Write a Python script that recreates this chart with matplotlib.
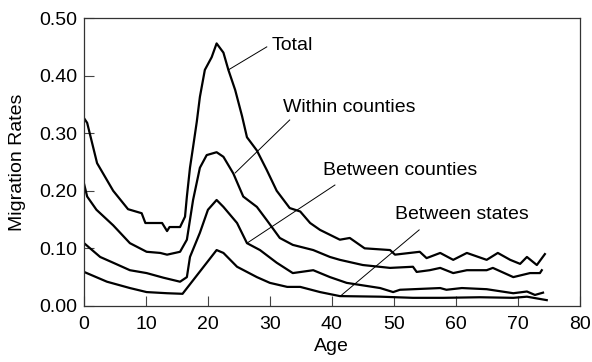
import matplotlib.pyplot as plt

plt.rcParams['font.family'] = ['Liberation Sans', 'DejaVu Sans']

# ages and rates
total_age = [0, 0.5, 2.1, 4.7, 7.1, 9.3, 9.9, 12.6, 13.4, 13.8, 15.5, 16.3, 16.6, 17.1, 17.6,
             18.2, 18.7, 19.5, 20.6, 21.4, 22.5, 23.3, 24.4, 25.5, 26.3, 27.9, 29.5, 31.1,
             33.2, 34.9, 36.5, 38.1, 41.3, 42.9, 45.3, 49.4, 50.2, 54.2, 55.3, 57.5, 59.6,
             61.8, 65.0, 66.8, 68.8, 70.4, 71.5, 73.1, 74.4]
total = [0.326, 0.318, 0.248, 0.200, 0.168, 0.161, 0.144, 0.144, 0.130, 0.137, 0.137, 0.155,
         0.190, 0.240, 0.276, 0.320, 0.363, 0.410, 0.432, 0.456, 0.440, 0.410, 0.375, 0.330,
         0.293, 0.270, 0.236, 0.200, 0.170, 0.164, 0.144, 0.132, 0.115, 0.118, 0.100, 0.097,
         0.089, 0.094, 0.083, 0.092, 0.080, 0.092, 0.080, 0.092, 0.080, 0.073, 0.085, 0.071,
         0.090]

within_age = [0, 0.5, 2.0, 4.7, 7.4, 10.1, 12.3, 13.4, 15.5, 16.6, 17.6, 18.7, 19.8, 21.4,
              22.5, 24.1, 25.7, 27.9, 29.5, 31.6, 33.7, 37.0, 39.7, 41.3, 45.0, 49.4, 53.1,
              53.7, 55.8, 57.5, 59.6, 61.8, 65.0, 66.0, 69.3, 72.0, 73.6, 73.9]
within = [0.212, 0.190, 0.167, 0.140, 0.109, 0.094, 0.092, 0.089, 0.094, 0.115, 0.184, 0.240,
          0.262, 0.267, 0.259, 0.230, 0.190, 0.172, 0.149, 0.118, 0.106, 0.097, 0.085, 0.080,
          0.071, 0.066, 0.068, 0.059, 0.062, 0.066, 0.057, 0.062, 0.062, 0.066, 0.050, 0.057,
          0.057, 0.062]

counties_age = [0, 2.6, 4.7, 7.4, 10.1, 12.8, 15.5, 16.6, 17.1, 18.7, 20.0, 21.4, 22.5, 24.7,
                26.3, 28.4, 31.1, 33.7, 37.0, 39.7, 42.4, 47.8, 49.9, 51.0, 57.5, 58.5, 61.0,
                65.0, 69.3, 71.5, 72.8, 74.1]
counties = [0.109, 0.085, 0.075, 0.062, 0.057, 0.049, 0.042, 0.050, 0.085, 0.127, 0.167, 0.184,
            0.172, 0.144, 0.109, 0.097, 0.075, 0.057, 0.062, 0.050, 0.040, 0.031, 0.024, 0.028,
            0.031, 0.028, 0.031, 0.029, 0.022, 0.025, 0.019, 0.023]

states_age = [0, 3.7, 7.4, 10.1, 13.4, 15.9, 21.4, 22.5, 24.7, 27.9, 30.0, 32.8, 34.9, 38.1,
              41.3, 47.8, 53.1, 58.0, 63.9, 69.3, 71.5, 74.7]
states = [0.059, 0.042, 0.031, 0.024, 0.022, 0.021, 0.097, 0.092, 0.068, 0.050, 0.040, 0.033,
          0.033, 0.024, 0.017, 0.016, 0.014, 0.014, 0.015, 0.014, 0.016, 0.010]

labels = ['Total', 'Within counties', 'Between counties', 'Between states']
# (point on curve, text position)
label_pts = [(23.3, 0.41), (24.4, 0.231), (26.3, 0.109), (41.6, 0.019)]
label_ends = [(29.5, 0.45), (33.2, 0.323), (40.5, 0.21), (54.1, 0.132)]
label_txt = [(30.3, 0.452), (32.1, 0.344), (38.6, 0.236), (50.2, 0.158)]

fig = plt.figure(figsize=(5.92, 3.62), dpi=100)
ax = fig.add_axes([0.142, 0.155, 0.837, 0.795])

for xs, ys in [(total_age, total), (within_age, within),
               (counties_age, counties), (states_age, states)]:
    ax.plot(xs, ys, color='black', lw=1.6, solid_joinstyle='round')

for lab, p, e, t in zip(labels, label_pts, label_ends, label_txt):
    ax.plot([p[0], e[0]], [p[1], e[1]], color='black', lw=0.7)
    ax.text(t[0], t[1], lab, fontsize=14, va='center', ha='left')

ax.set_xlim(0, 80)
ax.set_ylim(0, 0.5)
ax.set_xticks(range(0, 81, 10))
ax.set_yticks([0, 0.1, 0.2, 0.3, 0.4, 0.5])
ax.set_yticklabels(['0.00', '0.10', '0.20', '0.30', '0.40', '0.50'])
ax.tick_params(direction='in', length=7, width=0.8, labelsize=14, color='#444444')
ax.tick_params(axis='x', pad=7)
ax.tick_params(axis='y', pad=5)
for s in ax.spines.values():
    s.set_linewidth(0.9)
    s.set_color('#333333')
ax.set_xlabel('Age', fontsize=14, labelpad=4)
ax.set_ylabel('Migration Rates', fontsize=14, labelpad=9)

fig.savefig('out.png', dpi=100)
